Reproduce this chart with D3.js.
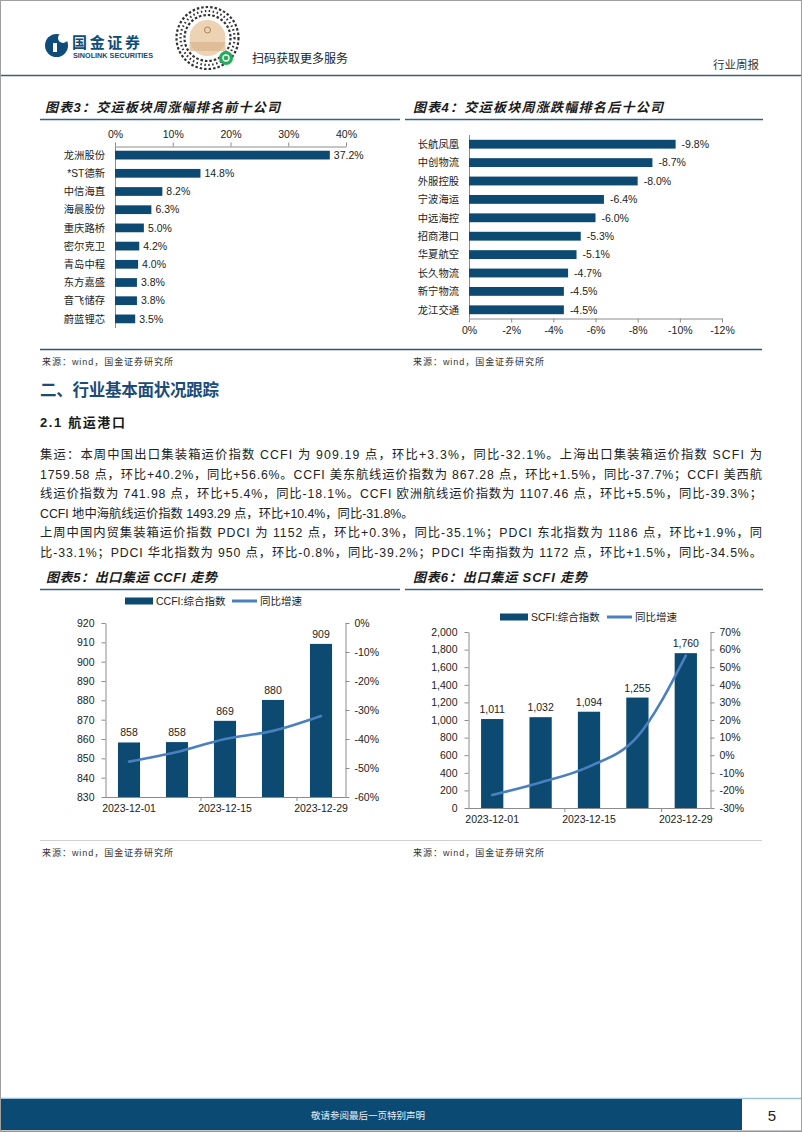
<!DOCTYPE html>
<html><head><meta charset="utf-8">
<script src="https://cdn.jsdelivr.net/npm/d3@7"></script>
<style>
html,body{margin:0;padding:0;background:#fff;}
svg{display:block;}
text{font-family:"Liberation Sans","Noto Sans CJK SC",sans-serif;}
</style></head><body>
<svg id="page" width="802" height="1133"></svg>
<script>
// ---------------- data ----------------
const topCompanies = ["龙洲股份","*ST德新","中信海直","海晨股份","重庆路桥","密尔克卫","青岛中程","东方嘉盛","音飞储存","蔚蓝锂芯"];
const topChanges = [37.2,14.8,8.2,6.3,5.0,4.2,4.0,3.8,3.8,3.5];
const topTicks = [0,10,20,30,40];

const bottomCompanies = ["长航凤凰","中创物流","外服控股","宁波海运","中远海控","招商港口","华夏航空","长久物流","新宁物流","龙江交通"];
const bottomChanges = [-9.8,-8.7,-8.0,-6.4,-6.0,-5.3,-5.1,-4.7,-4.5,-4.5];
const bottomTicks = [0,-2,-4,-6,-8,-10,-12];

const weekDates = ["2023-12-01","2023-12-08","2023-12-15","2023-12-22","2023-12-29"];
const shownDates = ["2023-12-01","2023-12-15","2023-12-29"];

const ccfiIndex = [858.2,858.4,869.4,880.2,909.19];
const ccfiYoY = [-47.8,-44.5,-40.0,-37.2,-32.1];
const ccfiLeftTicks = [830,840,850,860,870,880,890,900,910,920];
const ccfiRightTicks = [-60,-50,-40,-30,-20,-10,0];

const scfiIndex = [1011,1032,1094,1255,1759.58];
const scfiYoY = [-22.6,-15.5,-6.5,10.5,56.6];
const scfiLeftTicks = [0,200,400,600,800,1000,1200,1400,1600,1800,2000];
const scfiRightTicks = [-30,-20,-10,0,10,20,30,40,50,60,70];

const bodyLines = [
 "集运：本周中国出口集装箱运价指数 CCFI 为 909.19 点，环比+3.3%，同比-32.1%。上海出口集装箱运价指数 SCFI 为",
 "1759.58 点，环比+40.2%，同比+56.6%。CCFI 美东航线运价指数为 867.28 点，环比+1.5%，同比-37.7%；CCFI 美西航",
 "线运价指数为 741.98 点，环比+5.4%，同比-18.1%。CCFI 欧洲航线运价指数为 1107.46 点，环比+5.5%，同比-39.3%；",
 "CCFI 地中海航线运价指数 1493.29 点，环比+10.4%，同比-31.8%。",
 "上周中国内贸集装箱运价指数 PDCI 为 1152 点，环比+0.3%，同比-35.1%；PDCI 东北指数为 1186 点，环比+1.9%，同",
 "比-33.1%；PDCI 华北指数为 950 点，环比-0.8%，同比-39.2%；PDCI 华南指数为 1172 点，环比+1.5%，同比-34.5%。"
];
const bodyLineWidths = [722,722,722,null,722,722];

// ---------------- styles ----------------
const BAR = "#0c4a72";
const LINE = "#4a80c0";
const AXIS = "#8c8c8c";
const CJK = "'Noto Sans CJK SC',sans-serif";
const BODY = "'Liberation Sans Narrow','Noto Sans CJK SC',sans-serif";
const svg = d3.select("#page");

// page frame
svg.append("rect").attr("x",0.5).attr("y",0.5).attr("width",801).attr("height",1131)
  .attr("fill","#fff").attr("stroke","#a0a0a0");

// ---------------- header ----------------
const hdr = svg.append("g");
hdr.append("circle").attr("cx",56.5).attr("cy",45.5).attr("r",11.5).attr("fill","#0e4c7a");
hdr.append("circle").attr("cx",63).attr("cy",38).attr("r",5).attr("fill","#fff");
hdr.append("rect").attr("x",53).attr("y",43).attr("width",4).attr("height",9).attr("fill","#fff");
hdr.append("text").attr("x",72).attr("y",48).attr("font-size",15).attr("font-weight","bold")
  .attr("font-family",CJK).attr("fill","#0e4c7a").attr("textLength",68).text("国金证券");
hdr.append("text").attr("x",73).attr("y",57.5).attr("font-size",7).attr("font-weight","bold")
  .attr("fill","#0e4c7a").attr("textLength",80).attr("lengthAdjust","spacingAndGlyphs").text("SINOLINK SECURITIES");
const qr = hdr.append("g").attr("transform","translate(207.5,38)");
[31,27,23].forEach((r,i)=>qr.append("circle").attr("r",r).attr("fill","none")
  .attr("stroke","#333").attr("stroke-width",2.2).attr("stroke-dasharray",i%2?"1.5 2.5":"2.5 2"));
qr.append("circle").attr("r",18).attr("fill","#ecd3b4");
qr.append("rect").attr("x",-18).attr("y",4).attr("width",36).attr("height",9).attr("fill","#d9b48c").attr("opacity",0.7);
qr.append("circle").attr("cy",-8).attr("r",3).attr("fill","none").attr("stroke","#b08050");
hdr.append("circle").attr("cx",226).attr("cy",58).attr("r",7).attr("fill","#22ad5c");
hdr.append("circle").attr("cx",226).attr("cy",58).attr("r",3).attr("fill","none").attr("stroke","#fff").attr("stroke-width",1.3);
hdr.append("text").attr("x",252).attr("y",62.5).attr("font-size",12).attr("font-family",CJK)
  .attr("fill","#222").attr("textLength",96).text("扫码获取更多服务");
hdr.append("text").attr("x",713).attr("y",69).attr("font-size",11.5).attr("font-family",CJK)
  .attr("fill","#333").attr("textLength",46).text("行业周报");
hdr.append("line").attr("x1",1).attr("x2",801).attr("y1",75.5).attr("y2",75.5)
  .attr("stroke","#3d5d7d").attr("stroke-width",1.5);

// ---------------- helpers ----------------
function chartTitle(x, y, w, txt) {
  svg.append("text").attr("x",x).attr("y",y).attr("font-size",13).attr("font-weight","bold")
    .attr("font-style","italic").attr("font-family",CJK).attr("fill","#1a1a1a")
    .attr("textLength",w).text(txt);
}
function titleRule(x1, x2, y) {
  svg.append("line").attr("x1",x1).attr("x2",x2).attr("y1",y).attr("y2",y)
    .attr("stroke","#3a5f80").attr("stroke-width",1.3);
}
function source(x, y) {
  svg.append("text").attr("x",x).attr("y",y).attr("font-size",9)
    .attr("font-family","'DejaVu Sans Mono','Noto Sans CJK SC',monospace").attr("fill","#333")
    .attr("textLength",131).text("来源：wind，国金证券研究所");
}
function styleAxis(g) {
  g.select(".domain").attr("stroke",AXIS);
  g.selectAll(".tick line").attr("stroke",AXIS);
  g.selectAll(".tick text").attr("fill","#222").attr("font-size",10.5)
    .attr("font-family","'Liberation Sans',sans-serif");
}

// ---------------- chart 3 ----------------
chartTitle(45,112,235,"图表3：交运板块周涨幅排名前十公司");
titleRule(40,400,119.5);
{
  const x = d3.scaleLinear().domain([0,40]).range([115,346]);
  const y = d3.scaleBand().domain(topCompanies).range([146,328]).paddingInner(0.52).paddingOuter(0.26);
  const g = svg.append("g");
  const ax = g.append("g").attr("transform","translate(0,146.5)")
    .call(d3.axisTop(x).tickValues(topTicks).tickFormat(d=>d+"%").tickSize(4).tickSizeOuter(0).tickPadding(5));
  styleAxis(ax);
  g.append("line").attr("x1",115.5).attr("x2",115.5).attr("y1",146.5).attr("y2",328).attr("stroke",AXIS);
  g.selectAll("rect.b").data(topChanges).join("rect").attr("class","b")
    .attr("x",x(0)).attr("y",(d,i)=>y(topCompanies[i])).attr("height",y.bandwidth())
    .attr("width",d=>x(d)-x(0)).attr("fill",BAR);
  g.selectAll("text.c").data(topCompanies).join("text").attr("class","c")
    .attr("x",105).attr("y",d=>y(d)+y.bandwidth()/2).attr("dy","0.36em").attr("text-anchor","end")
    .attr("font-size",10.3).attr("font-family",CJK).attr("fill","#222").text(d=>d);
  g.selectAll("text.v").data(topChanges).join("text").attr("class","v")
    .attr("x",d=>x(d)+4).attr("y",(d,i)=>y(topCompanies[i])+y.bandwidth()/2).attr("dy","0.36em")
    .attr("font-size",10.5).attr("fill","#222").text(d=>d.toFixed(1)+"%");
}

// ---------------- chart 4 ----------------
chartTitle(413,112,250,"图表4：交运板块周涨跌幅排名后十公司");
titleRule(405,763,119.5);
{
  const x = d3.scaleLinear().domain([0,-12]).range([469,722]);
  const y = d3.scaleBand().domain(bottomCompanies).range([135,319]).paddingInner(0.52).paddingOuter(0.26);
  const g = svg.append("g");
  const ax = g.append("g").attr("transform","translate(0,318.5)")
    .call(d3.axisBottom(x).tickValues(bottomTicks).tickFormat(d=>d+"%").tickSize(4).tickSizeOuter(0).tickPadding(4));
  styleAxis(ax);
  g.append("line").attr("x1",469.5).attr("x2",469.5).attr("y1",135).attr("y2",318.5).attr("stroke",AXIS);
  g.selectAll("rect.b").data(bottomChanges).join("rect").attr("class","b")
    .attr("x",x(0)).attr("y",(d,i)=>y(bottomCompanies[i])).attr("height",y.bandwidth())
    .attr("width",d=>x(d)-x(0)).attr("fill",BAR);
  g.selectAll("text.c").data(bottomCompanies).join("text").attr("class","c")
    .attr("x",459).attr("y",d=>y(d)+y.bandwidth()/2).attr("dy","0.36em").attr("text-anchor","end")
    .attr("font-size",10.3).attr("font-family",CJK).attr("fill","#222").text(d=>d);
  g.selectAll("text.v").data(bottomChanges).join("text").attr("class","v")
    .attr("x",d=>x(d)+6).attr("y",(d,i)=>y(bottomCompanies[i])+y.bandwidth()/2).attr("dy","0.36em")
    .attr("font-size",10.5).attr("fill","#222").text(d=>d.toFixed(1)+"%");
}

// sources row 1
svg.append("line").attr("x1",40).attr("x2",762).attr("y1",349.5).attr("y2",349.5)
  .attr("stroke","#2c5577").attr("stroke-width",1.3);
source(42,364.5); source(413,364.5);

// ---------------- text section ----------------
svg.append("text").attr("x",40).attr("y",396).attr("font-size",16.5).attr("font-weight","bold")
  .attr("font-family",CJK).attr("fill","#1b4b78").attr("textLength",179).text("二、行业基本面状况跟踪");
svg.append("text").attr("x",40).attr("y",426.5).attr("font-size",13).attr("font-weight","bold")
  .attr("font-family",CJK).attr("fill","#1a1a1a").attr("textLength",85).text("2.1 航运港口");
const bodyY = [459,478.5,498,517.5,537,556.5];
svg.selectAll("text.body").data(bodyLines).join("text").attr("class","body")
  .attr("x",40).attr("y",(d,i)=>bodyY[i]).attr("font-size",12.3).attr("font-family",BODY)
  .attr("fill","#222").attr("textLength",(d,i)=>bodyLineWidths[i]).attr("lengthAdjust","spacing").text(d=>d);

// ---------------- combo chart helper ----------------
function combo(cfg) {
  const g = svg.append("g");
  const xb = d3.scaleBand().domain(weekDates).range([cfg.x0,cfg.x1]).paddingInner(0.54).paddingOuter(0.27);
  const yl = d3.scaleLinear().domain(cfg.lDom).range([cfg.yB,cfg.yT]);
  const yr = d3.scaleLinear().domain(cfg.rDom).range([cfg.yB,cfg.yT]);
  const cx = d => xb(d)+xb.bandwidth()/2;
  g.selectAll("rect.b").data(cfg.bars).join("rect").attr("class","b")
    .attr("x",(d,i)=>xb(weekDates[i])).attr("width",xb.bandwidth())
    .attr("y",d=>yl(d)).attr("height",d=>cfg.yB-yl(d)).attr("fill",BAR);
  g.selectAll("text.v").data(cfg.bars).join("text").attr("class","v")
    .attr("x",(d,i)=>cx(weekDates[i])).attr("y",d=>yl(d)-6).attr("text-anchor","middle")
    .attr("font-size",10.5).attr("fill","#222").text(d=>cfg.fmt(d));
  const la = g.append("g").attr("transform",`translate(${cfg.x0+0.5},0)`)
    .call(d3.axisLeft(yl).tickValues(cfg.lTicks).tickFormat(cfg.lFmt).tickSize(4).tickSizeOuter(0).tickPadding(7));
  styleAxis(la);
  const ra = g.append("g").attr("transform",`translate(${cfg.x1+0.5},0)`)
    .call(d3.axisRight(yr).tickValues(cfg.rTicks).tickFormat(d=>d+"%").tickSize(4).tickSizeOuter(0).tickPadding(5));
  styleAxis(ra);
  g.append("line").attr("x1",cfg.x0).attr("x2",cfg.x1+0.5).attr("y1",cfg.yB+0.5).attr("y2",cfg.yB+0.5).attr("stroke",AXIS);
  const step = xb.step();
  [2,4].forEach(i=>{
    const bx = xb(weekDates[i]) - step*xb.paddingInner()/2;
    g.append("line").attr("x1",bx).attr("x2",bx).attr("y1",cfg.yB).attr("y2",cfg.yB+4).attr("stroke",AXIS);
  });
  g.selectAll("text.xl").data(shownDates).join("text").attr("class","xl")
    .attr("x",d=>cx(d)).attr("y",cfg.yB+15).attr("text-anchor","middle")
    .attr("font-size",10.5).attr("fill","#222").text(d=>d);
  const line = d3.line().x((d,i)=>cx(weekDates[i])).y(d=>yr(d)).curve(d3.curveMonotoneX);
  g.append("path").datum(cfg.yoy).attr("d",line).attr("fill","none")
    .attr("stroke",LINE).attr("stroke-width",2.6).attr("stroke-linecap","round");
  const lg = g.append("g").attr("transform",`translate(0,${cfg.legY})`);
  lg.append("rect").attr("x",cfg.legX).attr("y",-3.5).attr("width",28).attr("height",7).attr("fill",BAR);
  lg.append("text").attr("x",cfg.legX+31).attr("y",0).attr("dy","0.36em").attr("font-size",10.5)
    .attr("fill","#222").text(cfg.legName);
  lg.append("line").attr("x1",cfg.legX+107).attr("x2",cfg.legX+132).attr("y1",0).attr("y2",0)
    .attr("stroke",LINE).attr("stroke-width",3);
  lg.append("text").attr("x",cfg.legX+135).attr("y",0).attr("dy","0.36em").attr("font-size",10.5)
    .attr("fill","#222").attr("font-family",CJK).text("同比增速");
}

// ---------------- chart 5 ----------------
chartTitle(46,582,171,"图表5：出口集运 CCFI 走势");
titleRule(40,400,589.5);
combo({x0:105,x1:345,yB:797,yT:623,lDom:[830,920],rDom:[-60,0],
  lTicks:ccfiLeftTicks,rTicks:ccfiRightTicks,lFmt:d3.format("d"),
  bars:ccfiIndex,yoy:ccfiYoY,fmt:d3.format(",.0f"),legX:125,legY:601,legName:"CCFI:综合指数"});

// ---------------- chart 6 ----------------
chartTitle(413,582,174,"图表6：出口集运 SCFI 走势");
titleRule(405,763,589.5);
combo({x0:468,x1:710,yB:808,yT:632,lDom:[0,2000],rDom:[-30,70],
  lTicks:scfiLeftTicks,rTicks:scfiRightTicks,lFmt:d3.format(","),
  bars:scfiIndex,yoy:scfiYoY,fmt:d3.format(",.0f"),legX:500,legY:617,legName:"SCFI:综合指数"});

// sources row 2
svg.append("line").attr("x1",40).attr("x2",762).attr("y1",840.5).attr("y2",840.5)
  .attr("stroke","#d0d0d0").attr("stroke-width",1);
source(42,855.5); source(413,855.5);

// ---------------- footer ----------------
svg.append("line").attr("x1",1).attr("x2",801).attr("y1",1098.5).attr("y2",1098.5)
  .attr("stroke","#9cc0d8").attr("stroke-width",1.5);
svg.append("rect").attr("x",1).attr("y",1099).attr("width",741).attr("height",31).attr("fill","#0b4a72");
svg.append("text").attr("x",368).attr("y",1119).attr("text-anchor","middle").attr("font-size",9.5)
  .attr("font-family",CJK).attr("fill","#e8eef4").text("敬请参阅最后一页特别声明");
svg.append("text").attr("x",772).attr("y",1120.5).attr("text-anchor","middle").attr("font-size",15)
  .attr("fill","#222").text("5");
svg.append("line").attr("x1",1).attr("x2",801).attr("y1",1131).attr("y2",1131).attr("stroke","#888");
</script>
</body></html>
